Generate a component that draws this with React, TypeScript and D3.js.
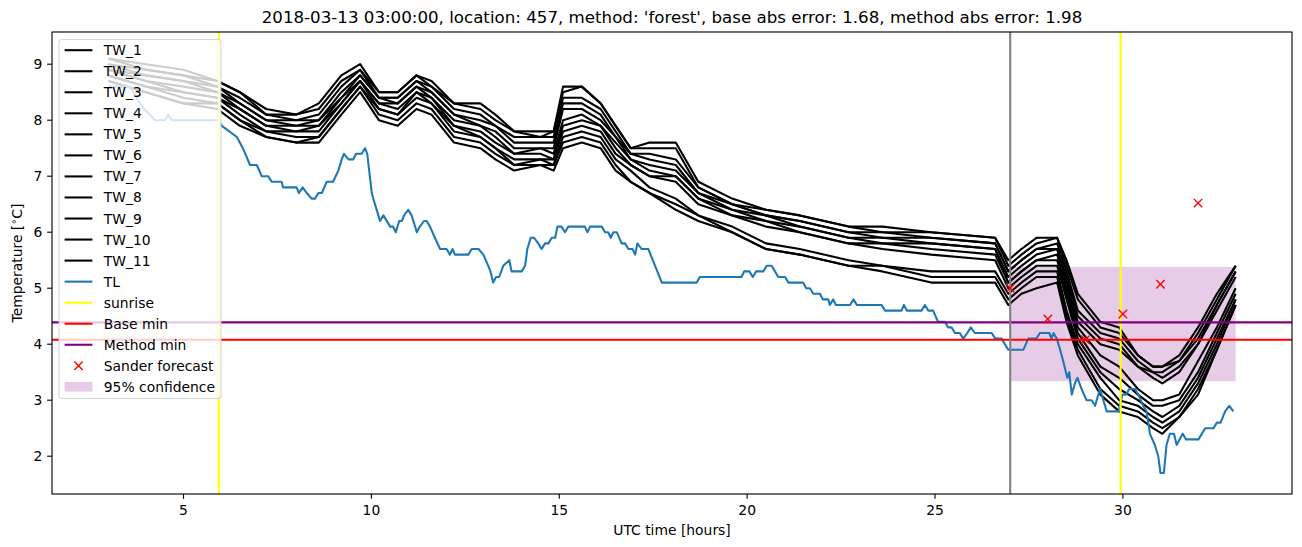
import React from "react";
import * as d3 from "d3";

const W = 1302;
const H = 547;
const M = { left: 52, right: 1292, top: 32, bottom: 494 };

const TITLE =
  "2018-03-13 03:00:00, location: 457, method: 'forest', base abs error: 1.68, method abs error: 1.98";
const X_TICKS = [5, 10, 15, 20, 25, 30];
const Y_TICKS = [2, 3, 4, 5, 6, 7, 8, 9];

const SUNRISE = [5.94, 29.94];
const FORECAST_TIME = 27.0;
const BASE_MIN = 4.08;
const METHOD_MIN = 4.39;
const CONF_X = [27.0, 33.0];
const CONF_Y = [3.34, 5.38];

const SANDER_T = [27, 28, 29, 30, 31, 32];
const SANDER_V = [5.0, 4.45, 4.08, 4.54, 5.07, 6.52];

const TL_T = [
  3.0, 3.58, 3.75, 3.95, 4.1, 4.24, 4.51, 4.59, 4.69, 5.92, 6.02, 6.42, 6.58, 6.77, 6.95, 7.08, 7.25,
  7.35, 7.61, 7.65, 8.01, 8.07, 8.17, 8.28, 8.41, 8.5, 8.59, 8.68, 8.81, 8.98, 9.12, 9.21, 9.27, 9.39,
  9.52, 9.59, 9.74, 9.83, 9.89, 10.01, 10.05, 10.23, 10.32, 10.5, 10.58, 10.65, 10.74, 10.81, 10.87,
  10.98, 11.07, 11.21, 11.29, 11.4, 11.47, 11.56, 11.69, 11.83, 12.0, 12.09, 12.16, 12.22, 12.58,
  12.67, 12.85, 12.98, 13.11, 13.17, 13.24, 13.32, 13.4, 13.51, 13.67, 13.73, 14.0, 14.09, 14.15,
  14.24, 14.33, 14.44, 14.53, 14.62, 14.71, 14.8, 14.89, 14.95, 15.06, 15.15, 15.24, 15.68, 15.75,
  15.82, 16.13, 16.22, 16.3, 16.37, 16.44, 16.53, 16.66, 16.75, 16.84, 16.95, 17.02, 17.08, 17.19,
  17.37, 17.55, 17.73, 18.66, 18.74, 19.85, 19.92, 20.06, 20.15, 20.24, 20.43, 20.52, 20.65, 20.74,
  20.83, 21.01, 21.1, 21.49, 21.57, 21.67, 21.76, 21.94, 22.01, 22.16, 22.2, 22.29, 22.36, 22.74,
  22.83, 22.92, 23.58, 23.67, 24.11, 24.17, 24.25, 24.64, 24.73, 24.82, 24.95, 25.08, 25.26, 25.35,
  25.44, 25.53, 25.66, 25.75, 25.86, 25.95, 26.06, 26.51, 26.6, 26.77, 26.95, 27.35, 27.48, 27.7,
  27.79, 28.04, 28.1, 28.15, 28.24, 28.33, 28.41, 28.52, 28.57, 28.64, 28.72, 28.79, 28.9, 29.03,
  29.17, 29.26, 29.39, 29.48, 29.57, 29.88, 29.99, 30.08, 30.17, 30.32, 30.41, 30.54, 30.63, 30.72,
  30.85, 30.94, 31.0, 31.09, 31.16, 31.25, 31.36, 31.43, 31.59, 31.68, 32.01, 32.19, 32.41, 32.5,
  32.6, 32.72, 32.83, 32.94,
];
const TL_V = [
  8.6, 8.6, 8.4, 8.2, 8.1, 8.0, 8.0, 8.1, 8.0, 8.0, 7.9, 7.7, 7.5, 7.2, 7.2, 7.0, 7.0,
  6.9, 6.9, 6.8, 6.8, 6.7, 6.8, 6.7, 6.6, 6.6, 6.7, 6.7, 6.9, 6.9, 7.1, 7.3, 7.4, 7.3,
  7.3, 7.4, 7.4, 7.5, 7.4, 6.7, 6.6, 6.2, 6.3, 6.1, 6.1, 6.0, 6.2, 6.2, 6.3,
  6.4, 6.3, 6.0, 6.1, 6.2, 6.2, 6.1, 5.9, 5.7, 5.7, 5.6, 5.7, 5.6, 5.6,
  5.7, 5.7, 5.6, 5.4, 5.3, 5.1, 5.2, 5.2, 5.4, 5.5, 5.3, 5.3, 5.4, 5.7,
  5.9, 5.9, 5.8, 5.7, 5.8, 5.8, 5.9, 5.9, 6.1, 6.1, 6.0, 6.1, 6.1, 6.0,
  6.1, 6.1, 6.0, 6.0, 5.9, 6.0, 6.0, 5.8, 5.8, 5.7, 5.7, 5.6, 5.8, 5.7,
  5.7, 5.4, 5.1, 5.1, 5.2, 5.2, 5.3, 5.3, 5.2, 5.3, 5.3, 5.4, 5.4, 5.3,
  5.2, 5.2, 5.1, 5.1, 5.0, 5.0, 4.9, 4.9, 4.8, 4.8, 4.7, 4.8, 4.7, 4.7,
  4.8, 4.7, 4.7, 4.6, 4.6, 4.7, 4.6, 4.6, 4.7, 4.6, 4.6, 4.4, 4.4, 4.3,
  4.3, 4.2, 4.2, 4.1, 4.2, 4.3, 4.2, 4.2, 4.1, 4.1, 3.9, 3.9, 4.1, 4.1,
  4.2, 4.2, 4.1, 4.2, 4.1, 3.9, 3.7, 3.4, 3.5, 3.1, 3.3, 3.4, 3.2, 3.0,
  3.0, 2.9, 3.2, 3.0, 2.8, 2.8, 3.1, 3.1, 3.2, 3.2, 3.1, 2.9, 2.8, 2.4,
  2.2, 2.0, 1.7, 1.7, 2.2, 2.4, 2.4, 2.2, 2.4, 2.3, 2.3, 2.5, 2.5, 2.6,
  2.6, 2.8, 2.9, 2.8,
];

const TW_T = [
  3.0, 4.0, 5.0, 5.9, 6.5, 7.2, 8.0, 8.6, 9.2, 9.7, 10.2, 10.7, 11.2, 11.6, 12.2, 12.9, 13.3, 13.8,
  14.5, 14.85, 15.1, 15.6, 16.1, 16.5, 16.9, 17.4, 18.1, 18.7, 19.6, 20.5, 21.4, 22.7, 23.6, 24.9,
  26.6, 26.95, 27.3, 27.7, 28.25, 28.5, 28.8, 29.4, 29.9, 30.4, 30.8, 31.05, 31.5, 32.0, 32.5, 33.0,
];
const TW_1 = [9.1, 9.0, 8.9, 8.7, 8.5, 8.2, 8.1, 8.3, 8.8, 9.0, 8.5, 8.5, 8.8, 8.7, 8.3, 8.3, 8.1, 7.8, 7.8, 7.8, 8.6, 8.6, 8.3, 7.9, 7.5, 7.6, 7.6, 6.9, 6.6, 6.4, 6.3, 6.1, 6.1, 6.0, 5.9, 5.5, 5.7, 5.9, 5.9, 5.5, 4.9, 4.4, 4.3, 3.8, 3.6, 3.6, 3.8, 4.3, 4.9, 5.4];
const TW_2 = [9.1, 8.9, 8.8, 8.7, 8.5, 8.1, 8.1, 8.2, 8.7, 8.9, 8.5, 8.5, 8.8, 8.6, 8.3, 8.2, 8.0, 7.8, 7.7, 7.8, 8.5, 8.6, 8.3, 7.9, 7.5, 7.5, 7.5, 6.8, 6.5, 6.4, 6.3, 6.1, 6.0, 6.0, 5.9, 5.4, 5.6, 5.8, 5.9, 5.4, 4.8, 4.3, 4.2, 3.8, 3.6, 3.6, 3.7, 4.2, 4.8, 5.4];
const TW_3 = [9.0, 8.9, 8.8, 8.6, 8.4, 8.1, 8.0, 8.1, 8.6, 8.9, 8.4, 8.4, 8.7, 8.6, 8.2, 8.1, 7.9, 7.7, 7.7, 7.7, 8.4, 8.4, 8.2, 7.8, 7.4, 7.4, 7.3, 6.8, 6.5, 6.3, 6.2, 6.0, 6.0, 5.9, 5.8, 5.3, 5.5, 5.7, 5.8, 5.3, 4.6, 4.2, 4.1, 3.7, 3.5, 3.5, 3.7, 4.1, 4.7, 5.3];
const TW_4 = [9.0, 8.8, 8.7, 8.6, 8.3, 8.0, 8.0, 8.0, 8.5, 8.8, 8.4, 8.4, 8.7, 8.5, 8.1, 8.0, 7.9, 7.6, 7.6, 7.6, 8.3, 8.3, 8.1, 7.7, 7.4, 7.3, 7.2, 6.7, 6.5, 6.3, 6.2, 6.0, 5.9, 5.9, 5.8, 5.3, 5.5, 5.7, 5.7, 5.2, 4.5, 4.1, 4.0, 3.6, 3.5, 3.4, 3.6, 4.0, 4.7, 5.3];
const TW_5 = [8.9, 8.8, 8.7, 8.5, 8.3, 8.0, 7.9, 8.0, 8.4, 8.8, 8.4, 8.3, 8.6, 8.5, 8.1, 7.9, 7.8, 7.5, 7.5, 7.5, 8.2, 8.2, 8.0, 7.7, 7.3, 7.2, 7.1, 6.7, 6.4, 6.3, 6.1, 5.9, 5.9, 5.8, 5.7, 5.2, 5.4, 5.6, 5.7, 5.1, 4.4, 4.0, 3.9, 3.6, 3.4, 3.3, 3.5, 4.0, 4.6, 5.2];
const TW_6 = [8.9, 8.7, 8.6, 8.5, 8.2, 7.9, 7.9, 7.9, 8.4, 8.7, 8.3, 8.3, 8.6, 8.4, 8.0, 7.9, 7.7, 7.4, 7.5, 7.4, 8.0, 8.1, 7.9, 7.6, 7.3, 7.1, 7.0, 6.6, 6.4, 6.2, 6.1, 5.9, 5.8, 5.8, 5.7, 5.1, 5.3, 5.5, 5.6, 5.0, 4.3, 3.8, 3.6, 3.2, 3.0, 3.0, 3.1, 3.7, 4.3, 5.0];
const TW_7 = [8.9, 8.7, 8.5, 8.4, 8.2, 7.9, 7.8, 7.9, 8.3, 8.7, 8.3, 8.2, 8.5, 8.4, 7.9, 7.8, 7.6, 7.4, 7.4, 7.3, 7.9, 8.0, 7.9, 7.5, 7.2, 7.0, 7.0, 6.6, 6.3, 6.2, 6.0, 5.8, 5.8, 5.7, 5.6, 5.1, 5.3, 5.5, 5.5, 4.9, 4.2, 3.6, 3.4, 3.1, 2.9, 2.9, 3.0, 3.5, 4.2, 4.9];
const TW_8 = [8.8, 8.6, 8.5, 8.4, 8.1, 7.8, 7.8, 7.8, 8.3, 8.7, 8.2, 8.1, 8.5, 8.3, 7.9, 7.7, 7.5, 7.3, 7.3, 7.3, 7.8, 7.9, 7.8, 7.4, 7.2, 7.0, 6.9, 6.5, 6.3, 6.1, 6.0, 5.8, 5.7, 5.6, 5.5, 5.0, 5.2, 5.4, 5.4, 4.8, 4.1, 3.5, 3.2, 3.0, 2.8, 2.7, 2.9, 3.4, 4.1, 4.8];
const TW_9 = [8.8, 8.6, 8.4, 8.3, 8.0, 7.8, 7.7, 7.7, 8.2, 8.6, 8.2, 8.1, 8.4, 8.3, 7.8, 7.7, 7.5, 7.2, 7.3, 7.2, 7.7, 7.8, 7.7, 7.3, 7.1, 6.8, 6.6, 6.3, 6.1, 5.8, 5.7, 5.5, 5.4, 5.3, 5.3, 4.9, 5.1, 5.3, 5.3, 4.6, 4.0, 3.4, 3.0, 2.9, 2.7, 2.6, 2.8, 3.3, 4.0, 4.8];
const TW_10 = [8.7, 8.5, 8.3, 8.3, 8.0, 7.7, 7.6, 7.7, 8.2, 8.6, 8.1, 8.0, 8.3, 8.2, 7.7, 7.6, 7.4, 7.2, 7.2, 7.2, 7.6, 7.7, 7.6, 7.2, 6.9, 6.7, 6.5, 6.3, 6.0, 5.7, 5.6, 5.4, 5.4, 5.2, 5.2, 4.8, 5.0, 5.2, 5.2, 4.5, 3.9, 3.2, 2.9, 2.8, 2.6, 2.5, 2.7, 3.2, 3.9, 4.7];
const TW_11 = [8.7, 8.5, 8.3, 8.2, 7.9, 7.7, 7.6, 7.6, 8.1, 8.5, 8.0, 7.9, 8.2, 8.1, 7.6, 7.5, 7.3, 7.1, 7.2, 7.1, 7.5, 7.6, 7.5, 7.1, 6.9, 6.7, 6.4, 6.2, 6.0, 5.7, 5.6, 5.4, 5.3, 5.1, 5.1, 4.7, 4.9, 5.0, 5.1, 4.4, 3.8, 3.1, 2.8, 2.7, 2.5, 2.4, 2.7, 3.1, 3.9, 4.7];

const TW_SERIES = [TW_1, TW_2, TW_3, TW_4, TW_5, TW_6, TW_7, TW_8, TW_9, TW_10, TW_11];
const TW_NAMES = ["TW_1", "TW_2", "TW_3", "TW_4", "TW_5", "TW_6", "TW_7", "TW_8", "TW_9", "TW_10", "TW_11"];

const FONT = "DejaVu Sans, sans-serif";
const FS = 13.89;
const LW = 2.08;

export default function App() {
  const x = d3.scaleLinear().domain([1.5, 34.5]).range([M.left, M.right]);
  const y = d3.scaleLinear().domain([1.325, 9.575]).range([M.bottom, M.top]);

  const line = d3
    .line<[number, number]>()
    .defined((d) => d[1] != null && !isNaN(d[1]))
    .x((d) => x(d[0]))
    .y((d) => y(d[1]));

  const twPaths = TW_SERIES.map((vals) => line(TW_T.map((t, i) => [t, vals[i]] as [number, number])) || "");
  const tlPath = line(TL_T.map((t, i) => [t, TL_V[i]] as [number, number])) || "";

  const legendItems: { label: string; kind: string; color: string }[] = [
    ...TW_NAMES.map((n) => ({ label: n, kind: "line", color: "#000000" })),
    { label: "TL", kind: "line", color: "#1f77b4" },
    { label: "sunrise", kind: "line", color: "#ffff00" },
    { label: "Base min", kind: "line", color: "#ff0000" },
    { label: "Method min", kind: "line", color: "#800080" },
    { label: "Sander forecast", kind: "x", color: "#ff0000" },
    { label: "95% confidence", kind: "patch", color: "#800080" },
  ];

  const xm = (cx: number, cy: number, r: number) =>
    `M${cx - r},${cy - r}L${cx + r},${cy + r}M${cx - r},${cy + r}L${cx + r},${cy - r}`;

  const legX = 59;
  const legY = 39.5;
  const legW = 162;
  const legH = 359;
  const rowY = (i: number) => 50.2 + i * 21.04;

  return (
    <svg
      width={W}
      height={H}
      style={{ position: "absolute", left: 0, top: 0, background: "#fff" }}
      fontFamily={FONT}
    >
      <rect x={0} y={0} width={W} height={H} fill="#fff" />
      <defs>
        <clipPath id="plot">
          <rect x={M.left} y={M.top} width={M.right - M.left} height={M.bottom - M.top} />
        </clipPath>
      </defs>

      <g clipPath="url(#plot)">
        <rect
          x={x(CONF_X[0])}
          y={y(CONF_Y[1])}
          width={x(CONF_X[1]) - x(CONF_X[0])}
          height={y(CONF_Y[0]) - y(CONF_Y[1])}
          fill="#800080"
          fillOpacity={0.2}
        />
        {twPaths.map((p, i) => (
          <path key={i} d={p} fill="none" stroke="#000" strokeWidth={LW} strokeLinejoin="round" />
        ))}
        <path d={tlPath} fill="none" stroke="#1f77b4" strokeWidth={LW} strokeLinejoin="round" />
        {SUNRISE.map((s, i) => (
          <line key={i} x1={x(s)} x2={x(s)} y1={M.top} y2={M.bottom} stroke="#ffff00" strokeWidth={LW} />
        ))}
        <line x1={M.left} x2={M.right} y1={y(BASE_MIN)} y2={y(BASE_MIN)} stroke="#ff0000" strokeWidth={LW} />
        <line x1={M.left} x2={M.right} y1={y(METHOD_MIN)} y2={y(METHOD_MIN)} stroke="#800080" strokeWidth={LW} />
        <line
          x1={x(FORECAST_TIME)}
          x2={x(FORECAST_TIME)}
          y1={M.top}
          y2={M.bottom}
          stroke="#808080"
          strokeWidth={LW}
        />
        {SANDER_T.map((t, i) => (
          <path key={i} d={xm(x(t), y(SANDER_V[i]), 4.2)} stroke="#ff0000" strokeWidth={1.4} fill="none" />
        ))}
      </g>

      <rect
        x={M.left}
        y={M.top}
        width={M.right - M.left}
        height={M.bottom - M.top}
        fill="none"
        stroke="#000"
        strokeWidth={1.11}
      />

      {X_TICKS.map((t) => (
        <g key={t}>
          <line x1={x(t)} x2={x(t)} y1={M.bottom} y2={M.bottom + 4.86} stroke="#000" strokeWidth={1.11} />
          <text x={x(t)} y={M.bottom + 20.5} fontSize={FS} textAnchor="middle" fill="#000">
            {t}
          </text>
        </g>
      ))}
      {Y_TICKS.map((t) => (
        <g key={t}>
          <line x1={M.left - 4.86} x2={M.left} y1={y(t)} y2={y(t)} stroke="#000" strokeWidth={1.11} />
          <text x={M.left - 9.7} y={y(t)} dy="0.36em" fontSize={FS} textAnchor="end" fill="#000">
            {t}
          </text>
        </g>
      ))}

      <text x={(M.left + M.right) / 2} y={535} fontSize={FS} textAnchor="middle" fill="#000">
        UTC time [hours]
      </text>
      <text
        transform={`translate(22, ${(M.top + M.bottom) / 2}) rotate(-90)`}
        fontSize={FS}
        textAnchor="middle"
        fill="#000"
      >
        Temperature [
        <tspan fontSize={FS * 0.7} dy={-5}>
          {"\u2218"}
        </tspan>
        <tspan dy={5}>C]</tspan>
      </text>
      <text x={(M.left + M.right) / 2} y={23} fontSize={16.67} textAnchor="middle" fill="#000">
        {TITLE}
      </text>

      <rect
        x={legX}
        y={legY}
        width={legW}
        height={legH}
        rx={3}
        fill="#fff"
        fillOpacity={0.8}
        stroke="#cccccc"
        strokeOpacity={0.8}
        strokeWidth={1.11}
      />
      {legendItems.map((it, i) => {
        const cy = rowY(i);
        return (
          <g key={it.label}>
            {it.kind === "line" && (
              <line x1={64.6} x2={92.4} y1={cy} y2={cy} stroke={it.color} strokeWidth={LW} />
            )}
            {it.kind === "x" && <path d={xm(78.5, cy, 4.2)} stroke={it.color} strokeWidth={1.4} fill="none" />}
            {it.kind === "patch" && (
              <rect x={64.6} y={cy - 4.9} width={27.8} height={9.7} fill={it.color} fillOpacity={0.2} />
            )}
            <text x={103.8} y={cy} dy="0.36em" fontSize={FS} fill="#000">
              {it.label}
            </text>
          </g>
        );
      })}
    </svg>
  );
}
